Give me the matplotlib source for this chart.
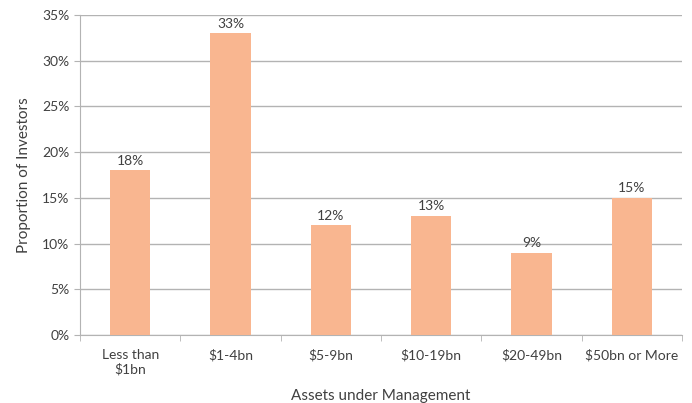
import matplotlib
matplotlib.use('Agg')
import matplotlib.pyplot as plt
import numpy as np

categories = ['Less than\n$1bn', '$1-4bn', '$5-9bn', '$10-19bn', '$20-49bn', '$50bn or More']
values = [18, 33, 12, 13, 9, 15]
yticks = [0, 5, 10, 15, 20, 25, 30, 35]

plt.rcParams['font.family'] = ['Lato', 'DejaVu Sans']
txt = '#404040'
grid = '#b3b3b3'

fig = plt.figure(figsize=(6.92, 4.03), dpi=100)
ax = fig.add_axes([0.1156, 0.1687, 0.8699, 0.7941])

x = np.arange(len(categories))
ax.bar(x, values, width=0.4, color='#f9b690', zorder=3)
for xi, v in zip(x, values):
    ax.text(xi, v + 0.4, f'{v}%', ha='center', va='bottom', fontsize=10, color=txt)

ax.set_xlim(-0.5, len(categories) - 0.5)
ax.set_ylim(0, 35)
ax.set_yticks(yticks)
ax.set_yticklabels([f'{t}%' for t in yticks], fontsize=10, color=txt)
ax.yaxis.grid(True, color=grid, linewidth=1, zorder=0)

ax.set_xticks(x)
ax.set_xticklabels(categories, fontsize=10, color=txt)
ax.set_xticks(np.arange(len(categories) + 1) - 0.5, minor=True)
ax.tick_params(axis='x', which='major', length=0, pad=10)
ax.tick_params(axis='x', which='minor', length=4, color=grid)
ax.tick_params(axis='y', length=4, color=grid)

for s in ['top', 'right']:
    ax.spines[s].set_visible(False)
for s in ['left', 'bottom']:
    ax.spines[s].set_color(grid)

ax.set_xlabel('Assets under Management', fontsize=11, color=txt, labelpad=10)
ax.set_ylabel('Proportion of Investors', fontsize=11, color=txt, labelpad=8)

fig.savefig('out.png', dpi=100)
